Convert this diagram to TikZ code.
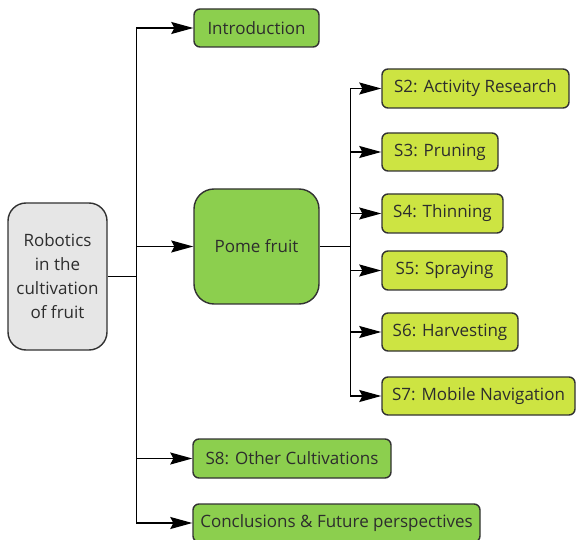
\documentclass[tikz,border=0pt]{standalone}
\usepackage{fontspec}
\setmainfont{Open Sans}
\usetikzlibrary{arrows.meta}
\definecolor{boxgreen}{RGB}{140,207,78}
\definecolor{boxyellow}{RGB}{205,228,66}
\definecolor{boxgray}{RGB}{230,230,230}
\definecolor{edgegray}{RGB}{50,50,50}
\definecolor{txtgray}{RGB}{45,45,45}
\begin{document}
\begin{tikzpicture}[x=1pt,y=-1pt,
  box/.style={draw=edgegray,line width=1.4pt,rounded corners=6pt,inner sep=0pt,
    text=txtgray,font=\fontsize{17}{24}\selectfont,align=center},
  greenbox/.style={box,fill=boxgreen},
  yellowbox/.style={box,fill=boxyellow},
  arr/.style={draw=black,line width=1.3pt,-{Stealth[length=22pt 0,width=12pt 0,inset=3pt 0]}},
  conn/.style={draw=black,line width=1.3pt}]
\useasboundingbox (0,0) rectangle (576,540);
\node[box,fill=boxgray,rounded corners=18pt,minimum width=99pt,minimum height=147pt] (root) at (57.5,276.5) {Robotics\\in the\\cultivation\\of fruit};
\node[greenbox,minimum width=125pt,minimum height=38pt] (intro) at (256.5,28) {Introduction};
\node[greenbox,rounded corners=20pt,minimum width=125pt,minimum height=115pt] (pome) at (256.5,246.5) {Pome fruit};
\node[greenbox,minimum width=198pt,minimum height=39pt] (s8) at (292,458.5) {S8: Other Cultivations};
\node[greenbox,minimum width=287pt,minimum height=38pt] (concl) at (336.5,523) {Conclusions \& Future perspectives};
\node[yellowbox,minimum width=187pt,minimum height=39pt] (s2) at (475.5,88.5) {S2: Activity Research};
\node[yellowbox,minimum width=116pt,minimum height=38pt] (s3) at (440,152) {S3: Pruning};
\node[yellowbox,minimum width=121pt,minimum height=39pt] (s4) at (442.5,213.5) {S4: Thinning};
\node[yellowbox,minimum width=125pt,minimum height=39pt] (s5) at (444.5,270.5) {S5: Spraying};
\node[yellowbox,minimum width=136pt,minimum height=38pt] (s6) at (450,332) {S6: Harvesting};
\node[yellowbox,minimum width=193pt,minimum height=38pt] (s7) at (478.5,396) {S7: Mobile Navigation};
\coordinate (trunk) at ([xshift=29pt]root.east);
\coordinate (subtrunk) at ([xshift=31pt]pome.east);
\draw[conn] (root.east) -- (trunk);
\foreach \c in {intro,pome,s8,concl}{\draw[arr] (trunk) |- (\c.west);}
\draw[conn] (pome.east) -- (subtrunk);
\foreach \c in {s2,s3,s4,s5,s6,s7}{\draw[arr] (subtrunk) |- (\c.west);}
\end{tikzpicture}
\end{document}
